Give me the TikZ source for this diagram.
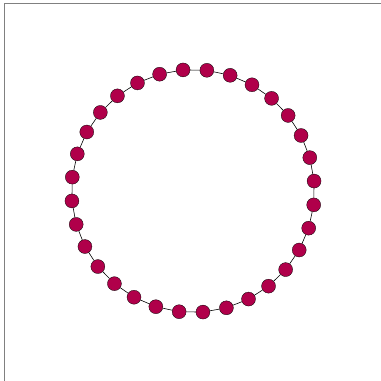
\documentclass[tikz,border=0pt]{standalone}
\usepackage{tikz}
\usetikzlibrary{calc}

\definecolor{ringred}{RGB}{176,0,74}
\tikzset{
  vert/.style={circle, fill=ringred, draw=black, line width=0.3pt, minimum size=14pt, inner sep=0pt},
  link/.style={draw=black, line width=0.6pt}
}

\begin{document}
\begin{tikzpicture}[x=1pt, y=-1pt]
\useasboundingbox (0,0) rectangle (381,381);
% Frame (only left and top edges visible)
\draw[gray, line width=1pt] (4.5,381) -- (4.5,3.5) -- (381,3.5);

% Ring of 32 vertices
\coordinate (ctr) at (193,191);
\foreach \i in {1,...,32} {
  \node[vert] (v\i) at ($(ctr)+({-4.7+(\i-1)*11.25}:121.5)$) {};
}

% Edges around the ring
\foreach \i [evaluate=\i as \j using {int(mod(\i,32)+1)}] in {1,...,32} {
  \draw[link] (v\i) -- (v\j);
}
\end{tikzpicture}
\end{document}
